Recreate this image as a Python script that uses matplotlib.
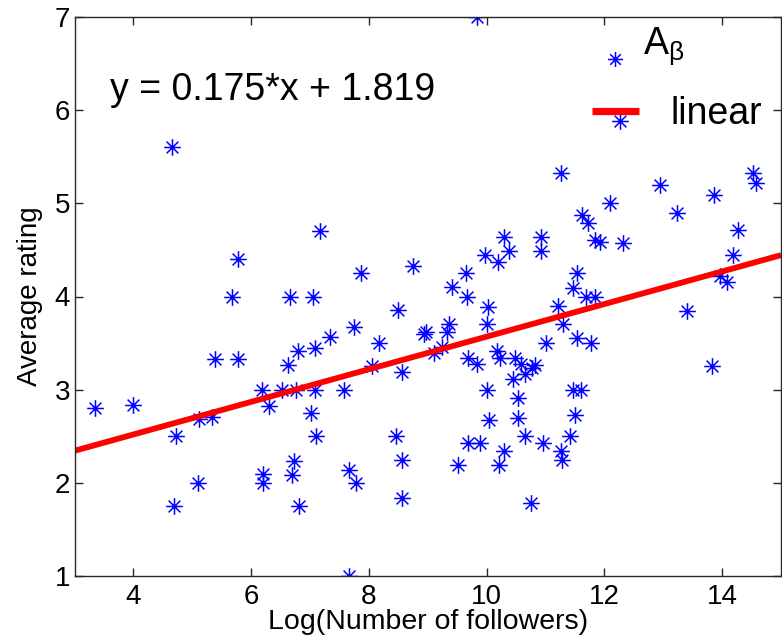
import numpy as np
import matplotlib
matplotlib.use('Agg')
import matplotlib.pyplot as plt
from matplotlib.path import Path

# ---- data ----
followers_log = [3.35, 4.00, 4.65, 4.72, 4.69, 5.09, 5.12, 5.34, 5.38, 5.78,
                 5.68, 5.78, 6.19, 6.30, 6.20, 6.20, 6.53, 6.62, 6.66, 6.70,
                 6.72, 6.77, 6.79, 6.81, 7.02, 7.05, 7.08, 7.09, 7.10, 7.17,
                 7.34, 7.57, 7.67, 7.67, 7.74, 7.78, 7.87, 8.05, 8.17, 8.46,
                 8.49, 8.56, 8.56, 8.57, 8.75, 8.93, 8.97, 9.11, 9.24, 9.32,
                 9.36, 9.42, 9.52, 9.65, 9.66, 9.69, 9.69, 9.83, 9.84, 9.88,
                 9.97, 10.01, 10.01, 10.03, 10.04, 10.17, 10.20, 10.21, 10.22, 10.30,
                 10.30, 10.38, 10.45, 10.49, 10.54, 10.54, 10.58, 10.65, 10.65, 10.75,
                 10.77, 10.83, 10.92, 10.92, 10.95, 11.00, 11.22, 11.27, 11.27, 11.28,
                 11.30, 11.41, 11.47, 11.47, 11.50, 11.54, 11.54, 11.61, 11.62, 11.73,
                 11.68, 11.78, 11.84, 11.84, 11.92, 12.09, 12.27, 12.31, 12.95, 13.23,
                 13.41, 13.83, 13.86, 13.97, 14.08, 14.18, 14.27, 14.53, 14.57]
avg_rating = [2.80, 2.84, 5.60, 2.50, 1.75, 2.00, 2.69, 2.71, 3.33, 3.33,
              4.00, 4.40, 3.00, 2.83, 2.10, 2.00, 3.00, 3.26, 4.00, 2.08,
              2.23, 3.00, 3.42, 1.75, 2.75, 4.00, 3.45, 3.00, 2.50, 4.70,
              3.56, 3.00, 2.14, 1.00, 3.67, 2.00, 4.25, 3.25, 3.50, 2.50,
              3.86, 2.25, 1.84, 3.19, 4.33, 3.60, 3.62, 3.39, 3.46, 3.62,
              3.71, 4.10, 2.19, 4.25, 4.00, 3.34, 2.43, 7.00, 3.28, 2.43,
              4.45, 3.71, 3.00, 3.89, 2.67, 3.41, 4.37, 2.19, 3.34, 4.64,
              2.34, 4.49, 3.11, 3.34, 2.91, 2.70, 3.28, 3.17, 2.50, 1.78,
              3.23, 3.27, 4.64, 4.49, 2.43, 3.50, 3.90, 5.33, 2.34, 2.25,
              3.71, 2.50, 4.09, 3.00, 2.73, 4.25, 3.55, 3.00, 4.87, 4.79,
              4.00, 3.50, 4.61, 4.00, 4.58, 5.00, 5.88, 4.57, 5.20, 4.90,
              3.84, 3.25, 5.09, 4.22, 4.16, 4.45, 4.71, 5.33, 5.22]
fit_slope = 0.175
fit_intercept = 1.819
x_limits = [3, 15]
y_limits = [1, 7]
x_ticks = [4, 6, 8, 10, 12, 14]
y_ticks = [1, 2, 3, 4, 5, 6, 7]
equation_text = 'y = 0.175*x + 1.819'
series_label = r'$\mathrm{A_\beta}$'
fit_label = 'linear'
x_label = 'Log(Number of followers)'
y_label = 'Average rating'

# ---- style ----
plt.rcParams['font.family'] = ['Liberation Sans', 'DejaVu Sans']
plt.rcParams['mathtext.fontset'] = 'custom'
plt.rcParams['mathtext.rm'] = 'Liberation Sans'
plt.rcParams['mathtext.it'] = 'Liberation Sans'
plt.rcParams['mathtext.bf'] = 'Liberation Sans:bold'

W, H = 782, 641
fig = plt.figure(figsize=(W / 100, H / 100), dpi=100)
ax = fig.add_axes([74.5 / W, 65 / H, 706.5 / W, 559 / H])

# MATLAB-like asterisk marker
d = np.sqrt(0.5)
star = Path([(-1, 0), (1, 0), (0, -1), (0, 1), (-d, -d), (d, d), (-d, d), (d, -d)],
            [Path.MOVETO, Path.LINETO] * 4)

h_pts, = ax.plot(followers_log, avg_rating, linestyle='none', marker=star,
                 markersize=12, markeredgewidth=1.1, markeredgecolor=(0, 0, 1),
                 markerfacecolor='none')

x_fit = np.array(x_limits, dtype=float)
y_fit = fit_slope * x_fit + fit_intercept
h_fit, = ax.plot(x_fit, y_fit, color=(1, 0, 0), linewidth=4.2, solid_capstyle='butt')

ax.set_xlim(x_limits)
ax.set_ylim(y_limits)
ax.set_xticks(x_ticks)
ax.set_yticks(y_ticks)

for s in ax.spines.values():
    s.set_linewidth(1.0)
    s.set_color('#262626')
ax.tick_params(direction='in', length=6, width=1.0, color='#262626',
               top=True, right=True, labelsize=20)
ax.tick_params(axis='x', pad=6)
ax.tick_params(axis='y', pad=3)

ax.set_xlabel(x_label, fontsize=20.5)
ax.set_ylabel(y_label, fontsize=20)
ax.xaxis.set_label_coords(0.5, -0.059)
ax.yaxis.set_label_coords(-0.0446, 0.5)

ax.text(3.60, 6.11, equation_text, fontsize=27, ha='left', va='baseline')

fs_leg = 27
leg1 = ax.legend([h_pts], [series_label], loc='center left',
                 bbox_to_anchor=((592 - 74.5) / 706.5, (576 - 65) / 559),
                 frameon=False, fontsize=fs_leg, handlelength=1.25,
                 handletextpad=0.1, borderpad=0, borderaxespad=0,
                 markerscale=0.9)
# raise the label relative to its marker, as in the reference
leg1.get_texts()[0].set_position((0, 19))
ax.add_artist(leg1)
leg2 = ax.legend([h_fit], [fit_label], loc='center left',
                 bbox_to_anchor=((592 - 74.5) / 706.5, (576 - 114) / 559),
                 frameon=False, fontsize=fs_leg, handlelength=1.25,
                 handletextpad=0.85, borderpad=0, borderaxespad=0)
leg2.get_lines()[0].set_linewidth(5.2)

fig.savefig('out.png', dpi=100)
